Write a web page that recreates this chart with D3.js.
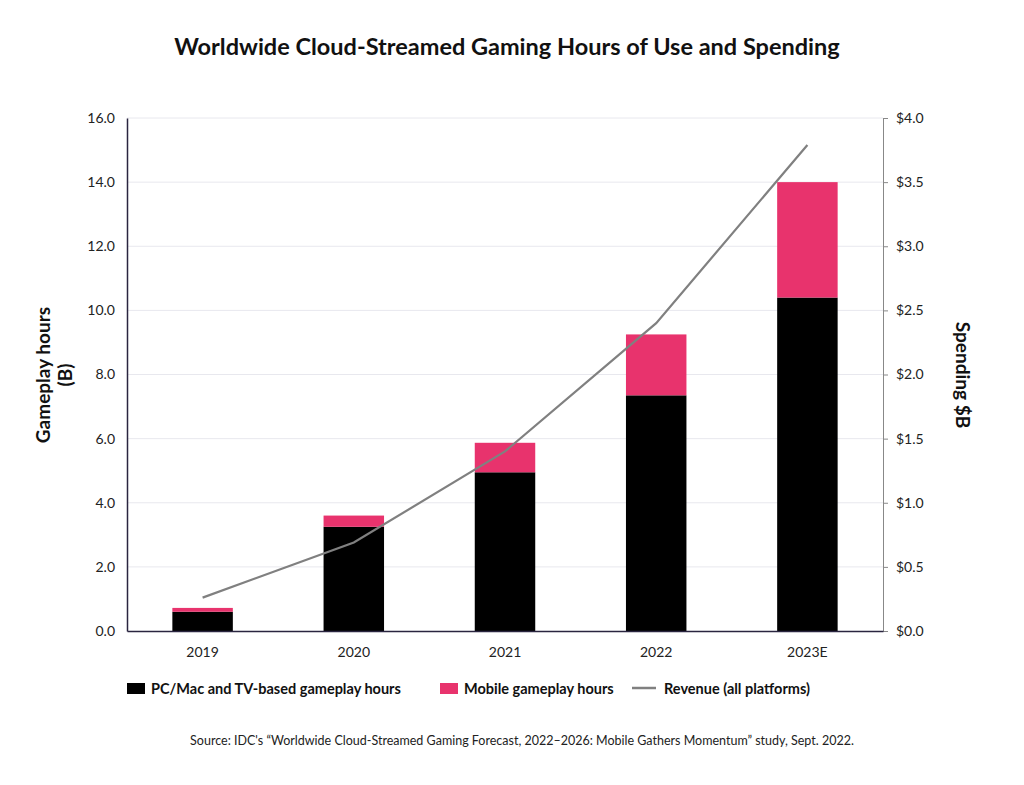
<!DOCTYPE html>
<html>
<head>
<meta charset="utf-8">
<script src="https://cdn.jsdelivr.net/npm/d3@7"></script>
<style>
  body { margin: 0; background: #fff; font-family: Lato, "Open Sans", sans-serif; }
  text { font-family: Lato, "Open Sans", sans-serif; }
</style>
</head>
<body>
<div id="chart"></div>
<script>
// Data
const years = ["2019", "2020", "2021", "2022", "2023E"];
const pcHours = [0.6, 3.25, 4.95, 7.35, 10.4];
const mobileHours = [0.12, 0.35, 0.92, 1.9, 3.6];
const revenue = [0.26, 0.69, 1.4, 2.4, 3.79];
const leftTicks = [0, 2, 4, 6, 8, 10, 12, 14, 16];
const rightTicks = [0, 0.5, 1, 1.5, 2, 2.5, 3, 3.5, 4];

const W = 1024, H = 785;
const m = {left: 127, right: 141, top: 118, bottom: 154};

const svg = d3.select("#chart").append("svg")
  .attr("width", W).attr("height", H);

const x = d3.scaleBand().domain(years).range([m.left, W - m.right])
  .paddingInner(0.6).paddingOuter(0.3);
const y = d3.scaleLinear().domain([0, 16]).range([H - m.bottom, m.top]);
const y2 = d3.scaleLinear().domain([0, 4]).range([H - m.bottom, m.top]);

// gridlines
svg.append("g").selectAll("line").data(leftTicks.slice(1)).join("line")
  .attr("x1", m.left).attr("x2", W - m.right)
  .attr("y1", d => y(d)).attr("y2", d => y(d))
  .attr("stroke", "#e8e8ee").attr("stroke-width", 1);

// bars
svg.append("g").selectAll("rect").data(years).join("rect")
  .attr("x", d => x(d)).attr("width", x.bandwidth())
  .attr("y", (d, i) => y(pcHours[i])).attr("height", (d, i) => y(0) - y(pcHours[i]))
  .attr("fill", "#000");
svg.append("g").selectAll("rect").data(years).join("rect")
  .attr("x", d => x(d)).attr("width", x.bandwidth())
  .attr("y", (d, i) => y(pcHours[i] + mobileHours[i]))
  .attr("height", (d, i) => y(pcHours[i]) - y(pcHours[i] + mobileHours[i]))
  .attr("fill", "#e8336d");

// revenue line
svg.append("path")
  .datum(years)
  .attr("fill", "none").attr("stroke", "#808080").attr("stroke-width", 2.2)
  .attr("d", d3.line().x(d => x(d) + x.bandwidth() / 2).y((d, i) => y2(revenue[i])));

// left axis
const la = svg.append("g").attr("transform", `translate(${m.left},0)`)
  .call(d3.axisLeft(y).tickValues(leftTicks).tickFormat(d3.format(".1f")).tickSize(0).tickPadding(12));
la.select(".domain").attr("stroke", "#2a2540").attr("stroke-width", 1.5);
la.selectAll("text").attr("font-size", 14).attr("fill", "#222");

// right axis
const ra = svg.append("g").attr("transform", `translate(${W - m.right},0)`)
  .call(d3.axisRight(y2).tickValues(rightTicks).tickFormat(d => "$" + d3.format(".1f")(d)).tickSize(5).tickPadding(8));
ra.select(".domain").attr("stroke", "#888");
ra.selectAll(".tick line").attr("stroke", "#888");
ra.selectAll("text").attr("font-size", 14).attr("fill", "#222");

// x axis
const xa = svg.append("g").attr("transform", `translate(0,${H - m.bottom})`)
  .call(d3.axisBottom(x).tickSize(0).tickPadding(16));
xa.select(".domain").attr("stroke", "#2a2540").attr("stroke-width", 1.5);
xa.selectAll("text").attr("font-size", 14).attr("fill", "#222");

// title
svg.append("text").attr("x", 507).attr("y", 55).attr("text-anchor", "middle")
  .attr("font-size", 23.5).attr("font-weight", 700).attr("fill", "#111")
  .text("Worldwide Cloud-Streamed Gaming Hours of Use and Spending");

// axis titles
const lt = svg.append("text").attr("transform", "translate(50,375) rotate(-90)")
  .attr("text-anchor", "middle").attr("font-size", 19).attr("font-weight", 700).attr("fill", "#111");
lt.append("tspan").attr("x", 0).attr("dy", 0).text("Gameplay hours");
lt.append("tspan").attr("x", 0).attr("dy", 22).text("(B)");
svg.append("text").attr("transform", "translate(956,375) rotate(90)")
  .attr("text-anchor", "middle").attr("font-size", 19).attr("font-weight", 700).attr("fill", "#111")
  .text("Spending $B");

// legend
const lg = svg.append("g").attr("font-size", 14.5).attr("font-weight", 700).attr("fill", "#111");
lg.append("rect").attr("x", 127).attr("y", 683).attr("width", 18).attr("height", 11).attr("fill", "#000");
lg.append("text").attr("x", 151).attr("y", 694).text("PC/Mac and TV-based gameplay hours");
lg.append("rect").attr("x", 440).attr("y", 683).attr("width", 18).attr("height", 11).attr("fill", "#e8336d");
lg.append("text").attr("x", 464).attr("y", 694).text("Mobile gameplay hours");
lg.append("line").attr("x1", 632).attr("x2", 656).attr("y1", 688).attr("y2", 688)
  .attr("stroke", "#808080").attr("stroke-width", 2.5);
lg.append("text").attr("x", 664).attr("y", 694).text("Revenue (all platforms)");

// source
svg.append("text").attr("x", 522).attr("y", 745).attr("text-anchor", "middle")
  .attr("font-size", 12.5).attr("fill", "#222")
  .text("Source: IDC's \u201cWorldwide Cloud-Streamed Gaming Forecast, 2022\u20132026: Mobile Gathers Momentum\u201d study,  Sept. 2022.");
</script>
</body>
</html>
